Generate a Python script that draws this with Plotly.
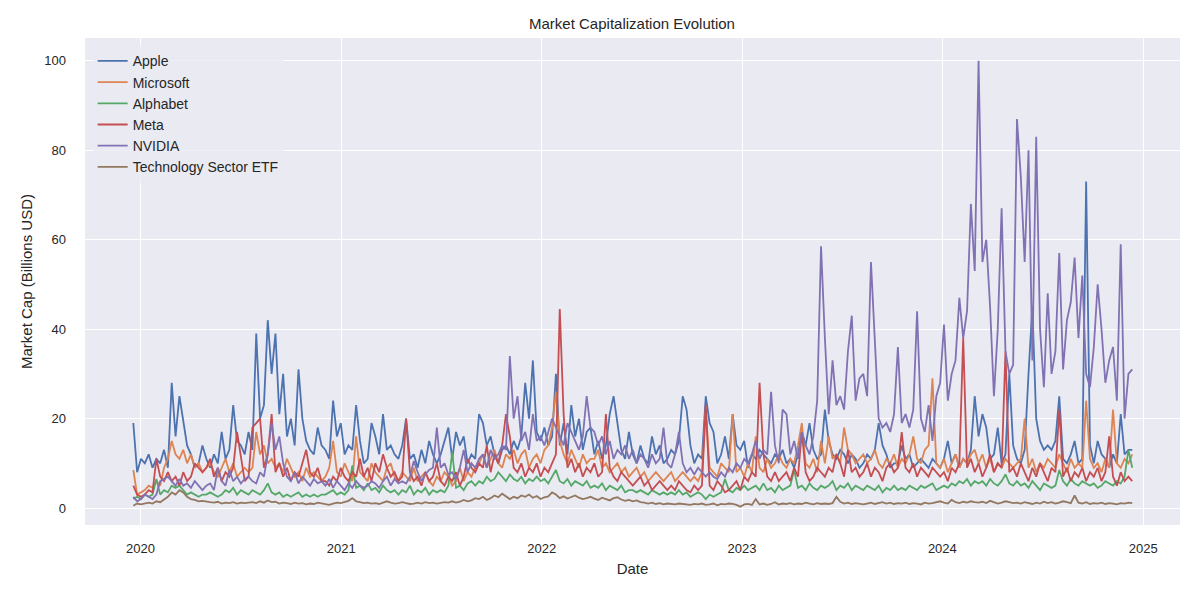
import pandas as pd
import plotly.graph_objects as go

dates = pd.date_range("2019-12-19", periods=261, freq="7D")

apple = [19, 8, 11, 10, 12, 9, 11, 10, 13, 9,
         28, 16, 25, 19, 14, 12, 9, 10, 14, 11,
         9, 12, 10, 17, 11, 13, 23, 15, 14, 12,
         17, 13, 39, 20, 23, 42, 30, 39, 21, 30,
         16, 20, 14, 31, 20, 15, 13, 12, 18, 14,
         13, 11, 24, 16, 19, 12, 14, 13, 23, 15,
         10, 11, 19, 16, 12, 21, 13, 14, 12, 11,
         14, 20, 11, 12, 9, 13, 10, 15, 12, 10,
         12, 15, 18, 11, 17, 14, 16, 10, 12, 11,
         21, 19, 14, 16, 12, 10, 13, 14, 12, 15,
         13, 16, 28, 20, 33, 17, 15, 18, 14, 16,
         30, 14, 19, 12, 23, 16, 20, 13, 17, 18,
         12, 15, 11, 14, 21, 25, 19, 13, 11, 17,
         12, 10, 14, 11, 10, 16, 12, 14, 10, 11,
         13, 12, 15, 25, 22, 14, 10, 12, 11, 25,
         19, 17, 10, 12, 16, 11, 21, 14, 13, 15,
         9, 12, 11, 13, 12, 11, 10, 12, 11, 13,
         10, 11, 9, 12, 17, 14, 19, 13, 11, 12,
         22, 15, 12, 11, 13, 12, 10, 12, 11, 9,
         10, 12, 11, 13, 19, 14, 12, 9, 10, 10,
         14, 11, 12, 9, 10, 11, 10, 9, 11, 10,
         9, 11, 15, 10, 12, 9, 11, 10, 13, 25,
         16, 21, 18, 11, 12, 18, 10, 12, 30, 14,
         11, 10, 13, 30, 45, 20, 15, 13, 14, 13,
         15, 25, 11, 10, 12, 15, 10, 11, 73, 14,
         10, 15, 12, 11, 9, 12, 10, 21, 12, 13, 13]

microsoft = [8.5, 3, 3.5, 4, 5, 4.5, 6, 5, 9, 11,
             15, 12, 11, 13, 10, 12, 9, 10, 8, 9,
             10, 8, 7, 9, 11, 8, 10, 7, 8, 9,
             8, 9, 17, 12, 14, 10, 11, 9, 10, 8,
             11, 9, 7, 8, 6, 9, 7, 8, 7, 6,
             7, 9, 15, 8, 7, 10, 8, 6, 16, 8,
             7, 6, 10, 8, 7, 6, 9, 10, 7, 6,
             8, 7, 6, 9, 6, 7, 8, 6, 5, 7,
             6, 8, 7, 5, 6, 9, 6, 8, 7, 9,
             10, 12, 9, 11, 13, 10, 9, 12, 11, 13,
             10, 12, 13, 9, 11, 12, 10, 13, 14, 18,
             26, 15, 12, 10, 13, 11, 9, 12, 10, 11,
             11, 13, 9, 10, 8, 9, 10, 8, 9, 7,
             8, 9, 7, 8, 6, 7, 8, 7, 6, 7,
             8, 6, 7, 8, 7, 6, 7, 6, 8, 22,
             9, 8, 7, 10, 9, 8, 21, 8, 9, 7,
             10, 8, 16, 9, 8, 11, 9, 10, 12, 10,
             9, 11, 10, 14, 19, 10, 9, 11, 8, 15,
             10, 16, 11, 12, 10, 18, 13, 12, 10, 11,
             12, 10, 11, 13, 10, 9, 11, 10, 12, 9,
             11, 10, 12, 16, 11, 10, 13, 14, 29, 10,
             9, 11, 8, 10, 12, 9, 11, 10, 12, 13,
             10, 12, 9, 11, 8, 10, 9, 11, 10, 9,
             10, 11, 20, 9, 11, 8, 10, 9, 11, 10,
             9, 12, 10, 8, 11, 9, 10, 9, 24, 11,
             9, 10, 8, 11, 9, 22, 10, 9, 11, 10, 12]

alphabet = [2, 2.5, 2, 3, 2.5, 3, 6.5, 3, 4, 3.5,
            5, 4.5, 5, 4, 3, 3.5, 3, 2.5, 3, 3,
            3.5, 3, 2.5, 3, 4, 3.5, 4.5, 3, 4, 3.5,
            3, 4, 3.5, 3, 4, 5.5, 3.5, 3, 3.5, 2.5,
            3, 2.5, 3, 3.5, 2.5, 3, 2.5, 3, 2.5, 3,
            3, 3.5, 4, 3, 3.5, 3, 4, 9.5, 4.5, 5,
            4, 5.5, 4, 4.5, 3.5, 5, 4, 3.5, 4, 3,
            4, 3.5, 5, 3, 4, 3.5, 4.5, 3, 4, 3.5,
            4, 3.5, 5, 12.5, 4.5, 5, 4, 5.5, 6, 5,
            6, 5.5, 7, 6, 6.5, 8, 7, 6, 7.5, 6.5,
            6, 7, 5.5, 6.5, 6, 7, 6, 6.5, 5.5, 7,
            8.5, 6, 5.5, 6.5, 5, 6, 5.5, 5, 6, 4.5,
            5, 4.5, 5.5, 4, 5, 4.5, 4, 5, 3.5, 4,
            4, 3.5, 4, 3.5, 3, 4, 3.5, 3, 3.5, 3,
            3.5, 3, 4, 3, 3.5, 2.5, 3, 3.5, 3, 2,
            3, 2.5, 3, 3.5, 6.5, 4, 3.5, 4.5, 4, 5,
            4, 4.5, 5, 4, 5.5, 4, 4.5, 3.5, 5, 4,
            4.5, 5, 8.5, 4.5, 5, 4, 5.5, 4.5, 4, 5,
            4.5, 5, 6, 4, 5, 4.5, 5.5, 4, 5, 4.5,
            4, 5, 4.5, 4, 5, 3.5, 4.5, 4, 5, 4,
            4.5, 4, 5, 4.5, 4, 5, 4.5, 5, 5.5, 4,
            4.5, 5, 4.5, 5.5, 5, 6, 5.5, 6.5, 5, 6,
            5.5, 6, 5, 6.5, 5.5, 5, 6, 7.5, 5.5, 5,
            6, 5, 5.5, 4.5, 6, 5, 4, 5.5, 5, 4.5,
            5, 8.5, 6, 5, 6.5, 5.5, 5, 6, 5.5, 5,
            5.5, 4.5, 5, 6, 5.5, 5, 6, 5.5, 7, 13, 9]

meta = [5, 3, 2.5, 3, 4, 3.5, 11, 7, 6, 8,
        6, 7, 5, 8, 6, 7, 10, 9, 8, 9,
        11, 7, 9, 6, 8, 7, 9, 17, 11, 6,
        7, 18, 19, 20, 9, 12, 21, 8, 10, 7,
        9, 6, 8, 7, 10, 13, 8, 7, 9, 6,
        6, 5, 7, 6, 9, 7, 6, 8, 7, 11,
        7, 9, 6, 10, 8, 12, 9, 7, 8, 6,
        7, 20, 8, 6, 7, 5, 8, 6, 7, 10,
        6, 5, 7, 6, 8, 5, 7, 11, 9, 8,
        10, 9, 14, 8, 12, 10, 14, 21, 16, 9,
        8, 10, 7, 9, 8, 10, 7, 9, 8, 10,
        12, 44.5, 21, 9, 11, 8, 10, 7, 9, 8,
        10, 7, 8, 21, 9, 7, 6, 8, 7, 6,
        5, 6, 7, 5, 6, 4, 5, 6, 5, 4,
        5, 4, 6, 5, 4, 3.5, 5, 4, 5, 23,
        5, 4, 6, 5, 3.5, 4, 5, 6, 4, 7,
        6, 8, 7, 28, 12, 7, 6, 8, 6, 7,
        8, 6, 9, 7, 17, 8, 6, 7, 9, 8,
        7, 9, 8, 12, 10, 7, 13, 8, 9, 7,
        8, 10, 7, 9, 8, 6, 9, 10, 8, 9,
        17, 9, 8, 10, 7, 9, 8, 7, 9, 8,
        7, 8, 6, 9, 8, 10, 38, 9, 11, 8,
        10, 7, 9, 12, 8, 10, 9, 35, 8, 9,
        7, 10, 8, 6, 9, 7, 10, 8, 6, 9,
        8, 22, 7, 9, 6, 8, 7, 9, 6, 8,
        7, 9, 6, 8, 16, 7, 5, 8, 6, 7, 6]

nvidia = [2.5, 1.5, 2, 3, 2.5, 2, 3, 6, 6.5, 7,
          6, 5, 6.5, 5, 5.5, 4.5, 6, 5, 4, 5,
          5.5, 4, 9, 6, 5, 8.5, 6, 7, 5.5, 6.5,
          7, 6, 5.5, 8, 7, 12, 19, 13, 16, 10,
          7, 6, 8, 5.5, 7, 6, 5, 6.5, 5.5, 6,
          5, 6.5, 4.5, 6, 5, 4, 5.5, 4.5, 6, 5,
          4.5, 5, 6, 5.5, 4.5, 6, 7, 5, 6.5, 5.5,
          6, 5.5, 7, 10.5, 8, 6, 7.5, 8.5, 9, 18,
          9, 10, 7.5, 8, 6.5, 9, 13, 8, 10, 9,
          11, 12, 9, 13, 11, 12, 14, 13, 34, 20,
          25, 15, 17, 13, 21, 15, 16, 14, 17, 20,
          18, 16, 14, 19, 17, 15, 13, 16, 25, 18,
          17, 14, 16, 12, 15, 11, 13, 12, 14, 11,
          13, 10, 12, 11, 9, 12, 10, 11, 18, 10,
          9, 12, 17, 10, 8, 9, 7.5, 9, 8, 7,
          8, 7, 6.5, 8, 7, 9, 8, 10, 9, 11,
          10, 12, 15, 11, 13, 12, 26, 14, 10, 22,
          21, 12, 15, 11, 17, 14, 12, 16, 24, 58.5,
          38, 21, 33, 23, 25, 22, 35, 43, 24, 29,
          30, 25, 55, 37, 20, 18, 19, 17, 21, 36,
          19, 21, 18, 22, 44, 20, 17, 23, 15, 25,
          28, 41, 24, 30, 33, 47, 38, 44, 68, 53,
          100, 55, 60, 45, 25, 40, 67, 35, 30, 32,
          87, 74, 55, 80, 33, 83, 40, 27, 48, 30,
          35, 57, 31, 42, 46, 56, 38, 52, 30, 27,
          36, 50, 40, 28, 33, 36, 24, 59, 20, 30, 31]

etf = [0.5, 1, 0.8, 1, 1.2, 1, 1.5, 1.3, 2, 2.5,
       3.5, 3, 4, 3.5, 2.5, 2, 1.8, 1.5, 1.6, 1.4,
       1.3, 1.2, 1.4, 1, 1.2, 1.1, 1.3, 1, 1.2, 1.1,
       1.2, 1.3, 1.1, 1.5, 1.2, 1.7, 1.3, 1.4, 1, 1.2,
       1.1, 0.9, 1.2, 1, 1.1, 0.8, 1, 0.9, 1.2, 1,
       0.9, 0.7, 1, 1.2, 1.1, 1.4, 1.6, 2.2, 1.5, 1.3,
       1.1, 1.2, 1, 1.1, 0.9, 1.2, 1.5, 1.2, 1, 1.1,
       1.3, 1.1, 0.9, 1, 1.2, 1, 1.3, 1.1, 1.2, 1,
       1.1, 1.3, 1.2, 1.5, 1.2, 1.4, 1.8, 1.5, 1.7, 2.2,
       2, 2.5, 1.8, 2.2, 2.8, 2.4, 3.2, 2.6, 2, 2.5,
       2.2, 2.8, 2.5, 3, 2.3, 2.7, 2, 2.4, 2.6, 3.5,
       3, 2.2, 2.6, 2.1, 2.4, 2.8, 2.3, 2, 2.2, 2.5,
       2.1, 1.8, 2.3, 2, 1.7, 2.2, 2.4, 1.9, 1.6, 1.8,
       1.5, 1.7, 1.3, 1.2, 1, 1.2, 0.9, 1.1, 0.8, 1,
       0.9, 0.8, 1, 0.9, 0.8, 0.7, 0.9, 0.8, 1, 0.7,
       0.8, 1, 0.6, 0.9, 0.8, 1, 0.9, 0.7, 0.3, 0.8,
       0.9, 0.7, 2, 0.8, 1, 0.7, 0.9, 1.3, 0.8, 1,
       0.9, 1.1, 0.8, 1, 0.9, 1.2, 1, 0.8, 1.1, 0.9,
       1, 0.9, 1.1, 2.5, 1.4, 1, 1.2, 0.9, 1.1, 1,
       0.8, 1, 1.2, 0.9, 1.1, 1.3, 1, 1.2, 0.9, 1.1,
       1, 1.2, 0.9, 1.1, 1, 0.8, 1.2, 1, 1.1, 1.3,
       1.5, 1.2, 1, 1.8, 1.3, 1.1, 1.4, 1.2, 1.5, 1.3,
       1.2, 1.4, 1.1, 1.6, 1.3, 1, 1.2, 1.5, 1.3, 1.1,
       1.2, 1, 1.3, 1.1, 0.9, 1.2, 1, 1.4, 1.1, 1.3,
       1, 1.2, 1.5, 1.3, 1.1, 2.8, 1.2, 1, 1.3, 0.9,
       1.1, 1, 1.2, 0.9, 1.1, 1, 0.8, 1.1, 1, 1.2, 1.1]

series_names = ["Apple", "Microsoft", "Alphabet", "Meta", "NVIDIA", "Technology Sector ETF"]
series_values = [apple, microsoft, alphabet, meta, nvidia, etf]
colors = ["#4C72B0", "#DD8452", "#55A868", "#C44E52", "#8172B3", "#937860"]

year_ticks = ["2020-01-01", "2021-01-01", "2022-01-01", "2023-01-01", "2024-01-01", "2025-01-01"]
year_labels = ["2020", "2021", "2022", "2023", "2024", "2025"]
y_ticks = [0, 20, 40, 60, 80, 100]

fig = go.Figure()
for name, vals, col in zip(series_names, series_values, colors):
    fig.add_trace(go.Scatter(x=dates, y=vals, mode="lines", name=name,
                             line=dict(color=col, width=1.8)))

font_family = "Liberation Sans, Arial, sans-serif"
fig.update_layout(
    width=1200, height=600,
    margin=dict(l=77, r=28, t=30, b=83),
    paper_bgcolor="white",
    plot_bgcolor="#EAEAF2",
    font=dict(family=font_family, size=13, color="#262626"),
    title=dict(text="Market Capitalization Evolution", x=0.52, xanchor="center",
               y=0.973, yanchor="middle", font=dict(size=15, color="#262626")),
    legend=dict(x=0.007, y=0.985, xanchor="left", yanchor="top",
                bgcolor="rgba(234,234,242,0.8)", borderwidth=0,
                font=dict(size=14, color="#262626")),
    showlegend=True,
)
fig.update_xaxes(
    title=dict(text="Date", font=dict(size=15), standoff=8),
    range=["2019-09-22", "2025-03-09"],
    tickvals=year_ticks, ticktext=year_labels,
    showgrid=True, gridcolor="white", gridwidth=1.3,
    zeroline=False, showline=False, ticks="", ticklen=0,
    ticklabelstandoff=14,
)
fig.update_yaxes(
    title=dict(text="Market Cap (Billions USD)", font=dict(size=15), standoff=8),
    range=[-3.8, 105.1],
    tickvals=y_ticks,
    showgrid=True, gridcolor="white", gridwidth=1.3,
    zeroline=False, showline=False, ticks="",
    ticklabelstandoff=18,
)

fig.write_html("out.html")
